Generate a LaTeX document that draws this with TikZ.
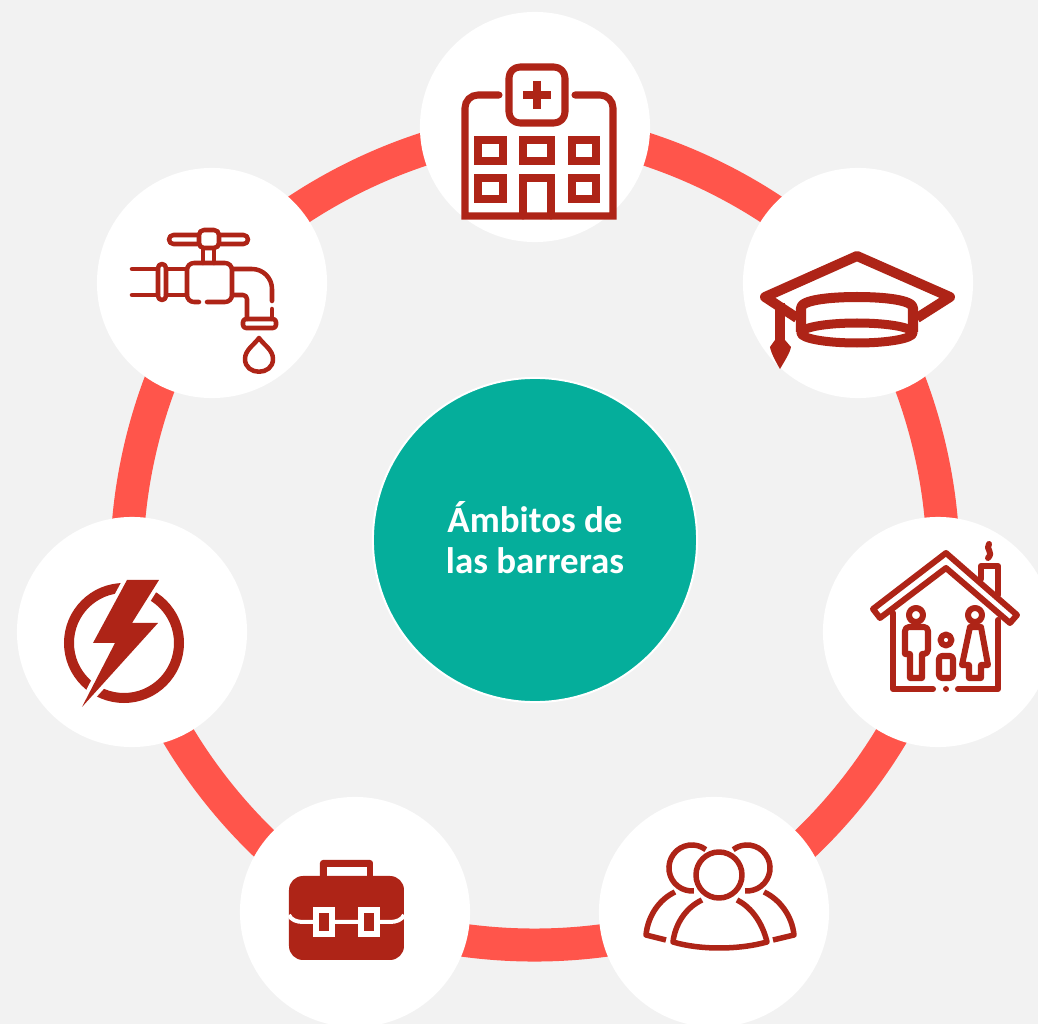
\documentclass[tikz,border=0pt]{standalone}
\usepackage{fontspec}
\setmainfont{Carlito}
\usetikzlibrary{backgrounds}
\definecolor{paper}{HTML}{F2F2F2}
\definecolor{ringred}{HTML}{FF554B}
\definecolor{iconred}{HTML}{AE2417}
\definecolor{hubgreen}{HTML}{05AE9B}
\tikzset{
  iconbg/.style={circle,fill=white,minimum size=2.3cm,inner sep=0pt},
  hubnode/.style={circle,fill=hubgreen,draw=white,line width=0.02cm,minimum size=3.24cm,inner sep=0pt},
  hubtext/.style={text=white,align=center,inner sep=0pt,font=\bfseries\fontsize{10.5}{11.7}\selectfont},
  ringline/.style={draw=ringred,line width=0.33cm},
  thickicon/.style={draw=iconred,line width=0.07cm,line cap=round,line join=round},
  midicon/.style={draw=iconred,line width=0.055cm,line cap=round,line join=round},
  thinicon/.style={draw=iconred,line width=0.045cm,line cap=round,line join=round},
  capicon/.style={draw=iconred,line width=0.1cm,line join=round}
}
\begin{document}
\begin{tikzpicture}[x=0.01cm,y=-0.01cm]
  \useasboundingbox (0,0) rectangle (1038,1024);
  \clip (0,0) rectangle (1038,1024);
  % hub and the seven discs
  \node[hubnode] (hub) at (535,540) {};
  \node[hubtext] (title) at (535,538) {Ámbitos de\\las barreras};
  \node[iconbg] (hospital) at (535,127) {};
  \node[iconbg] (school) at (858,283) {};
  \node[iconbg] (housing) at (938,632) {};
  \node[iconbg] (people) at (714,912) {};
  \node[iconbg] (work) at (355,912) {};
  \node[iconbg] (power) at (132,632) {};
  \node[iconbg] (water) at (212,283) {};
  % ring behind the discs
  \begin{pgfonlayer}{background}
    \fill[paper] (0,0) rectangle (1038,1024);
    \foreach \from/\to in {hospital/school,school/housing,housing/people,people/work,work/power,power/water,water/hospital}
      \draw[ringline] (\from.center) to[bend left=22,looseness=.84] (\to.center);
  \end{pgfonlayer}
  % hospital
  \draw[thickicon,line join=miter,rounded corners=0.13cm] (499,95) -- (465,95) -- (465,150) [sharp corners] -- (465,216) -- (613,216) -- (613,150) [rounded corners=0.13cm] -- (613,95) -- (575,95);
  \draw[thickicon,rounded corners=0.11cm] (509,67) rectangle (565,123);
  \draw[thickicon,line cap=butt] (523,95) -- (551,95);
  \draw[thickicon,line cap=butt] (537,81) -- (537,109);
  \draw[thickicon,line join=miter] (478,140) rectangle (503,161);
  \draw[thickicon,line join=miter] (523,140) rectangle (551,161);
  \draw[thickicon,line join=miter] (572,140) rectangle (596,161);
  \draw[thickicon,line join=miter] (478,178) rectangle (503,199);
  \draw[thickicon,line join=miter] (572,178) rectangle (596,199);
  \draw[thickicon,line join=miter] (523,216) -- (523,178) -- (551,178) -- (551,216);
  % faucet
  \draw[thinicon,rounded corners=0.045cm] (169,235) rectangle (248,244);
  \draw[thinicon,fill=white,rounded corners=0.05cm] (199,230) rectangle (219,248);
  \draw[thinicon] (203,248) -- (203,263) (214,248) -- (214,263);
  \draw[thinicon,rounded corners=0.07cm] (199,302) -- (187,302) -- (187,263) -- (232,263) -- (232,302) -- (207,302);
  \draw[thinicon] (132,269) -- (158,269) (132,295) -- (158,295);
  \draw[thinicon,rounded corners=0.04cm] (158,264) rectangle (166,300);
  \draw[thinicon] (166,269) -- (187,269) (166,295) -- (187,295);
  \draw[thinicon,rounded corners=0.2cm] (232,269) -- (272,269) -- (272,301);
  \draw[thinicon] (272,309) -- (272,319);
  \draw[thinicon,rounded corners=0.04cm] (232,295) -- (247,295) -- (247,319);
  \draw[thinicon,rounded corners=0.03cm] (243,319) rectangle (276,328);
  \draw[thinicon] (259,338) .. controls (254,345) and (245,350) .. (245,359) .. controls (245,376) and (273,376) .. (273,359) .. controls (273,350) and (264,345) .. (259,338) -- cycle;
  % mortarboard
  \draw[capicon] (797,318) -- (765,297) -- (857,256) -- (950,297) -- (917,318);
  \draw[capicon,fill=white] (801,332) -- (801,308) .. controls (801,300) and (830,297) .. (857,297) .. controls (884,297) and (913,300) .. (913,308) -- (913,332);
  \draw[capicon,line width=0.09cm,fill=white] (857,333) ellipse (56 and 10);
  \draw[capicon] (780,303) -- (780,345);
  \fill[iconred] (775,340) -- (770,347) .. controls (771,353) and (776,362) .. (780,369) .. controls (784,362) and (790,353) .. (791,347) -- (785,340) -- cycle;
  % house with family
  \begin{scope}[midicon/.append style={line width=0.06cm}]
    \draw[midicon] (946,553) -- (873,609) -- (880,618) -- (946,568) -- (1010,623) -- (1017,615) -- cycle;
    \draw[midicon] (981,579) -- (981,566) -- (998,566) -- (998,595);
    \draw[midicon] (989,544) .. controls (985,549) and (994,552) .. (988,558);
    \draw[midicon] (893,613) -- (893,689) -- (933,689);
    \draw[midicon] (998,620) -- (998,689) -- (958,689);
    \fill[iconred] (946,689) circle (3);
    \draw[midicon] (916,615) circle (7);
    \draw[midicon,rounded corners=0.04cm] (905,654) -- (905,627) -- (928,627) -- (928,654) [sharp corners] -- (922,654) -- (922,678) -- (910,678) -- (910,654) -- cycle;
    \draw[midicon] (946,640) circle (5.5);
    \draw[midicon,rounded corners=0.03cm] (939,678) -- (939,656) -- (953,656) -- (953,678) -- cycle;
    \draw[midicon] (975,615) circle (7);
    \draw[midicon] (970,627) -- (981,627) -- (988,665) -- (981,665) -- (981,678) -- (969,678) -- (969,665) -- (962,665) -- cycle;
  \end{scope}
  % group of people
  \draw[midicon,line cap=butt] (719,875) circle (23);
  \draw[midicon,line cap=butt] (705.8,849.6) arc[start angle=307,end angle=85,radius=23];
  \draw[midicon,line cap=butt] (733.2,849.6) arc[start angle=-127,end angle=95,radius=23];
  \draw[midicon,line cap=butt] (702,900) .. controls (685,908) and (675,925) .. (673,942) .. controls (700,950) and (738,950) .. (767,942) .. controls (763,925) and (753,908) .. (737,900);
  \draw[midicon,line cap=butt] (675,892) .. controls (660,899) and (648,915) .. (646,935) -- (666,940);
  \draw[midicon,line cap=butt] (764,892) .. controls (779,899) and (792,915) .. (794,935) -- (773,940);
  % briefcase
  \fill[iconred,rounded corners=0.03cm] (320,880) -- (320,860) -- (373,860) -- (373,880) -- cycle;
  \fill[white] (327,867) rectangle (367,878);
  \fill[iconred,rounded corners=0.14cm] (289,876) rectangle (404,960);
  \draw[white,line width=0.04cm] (289,915) .. controls (291,920) and (297,922) .. (303,922) -- (390,922) .. controls (396,922) and (402,920) .. (404,915);
  \draw[white,line width=0.05cm,fill=iconred] (316,910) rectangle (332,934);
  \draw[white,line width=0.05cm,fill=iconred] (361,910) rectangle (377,934);
  % lightning bolt
  \draw[iconred,line width=0.1cm] (124,643) circle (55);
  \fill[iconred,draw=white,line width=0.08cm,line join=round] (127,580) -- (159,580) -- (132,623) -- (158,623) -- (82,707) -- (115,643) -- (93,643) -- cycle;
  \fill[iconred] (127,580) -- (159,580) -- (132,623) -- (158,623) -- (82,707) -- (115,643) -- (93,643) -- cycle;
\end{tikzpicture}
\end{document}
